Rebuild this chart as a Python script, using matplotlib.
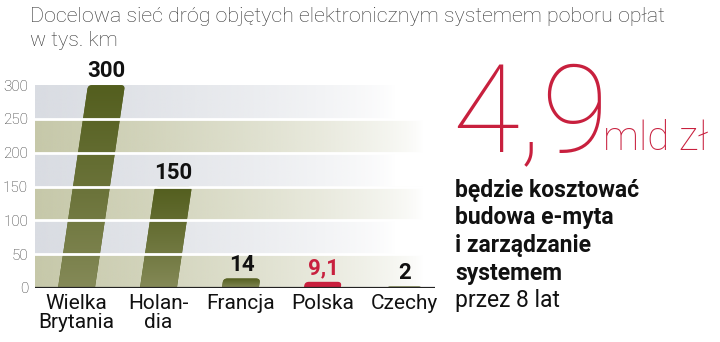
import matplotlib
matplotlib.use("Agg")
import matplotlib.pyplot as plt
import matplotlib.transforms as mtransforms
from matplotlib.patches import FancyBboxPatch
from matplotlib.colors import to_rgb
import numpy as np

# data
countries = ["Wielka\nBrytania", "Holan-\ndia", "Francja", "Polska", "Czechy"]
lengths = [300, 150, 14, 9.1, 2]
value_labels = ["300", "150", "14", "9,1", "2"]
yticks = [0, 50, 100, 150, 200, 250, 300]

olive_top = "#535e1e"
olive_bottom = "#858a58"
red = "#c8203e"

plt.rcParams['font.family'] = ['Roboto', 'DejaVu Sans']

fig = plt.figure(figsize=(7.2, 3.42), dpi=100)
ax = fig.add_axes([0.0486, 0.158, 0.555, 0.593])
ax.set_xlim(-0.506, 4.37)
ax.set_ylim(0, 300)

# striped background fading to white on the right
xs = np.linspace(0, 1, 256)
for i in range(6):
    lo, hi = i * 50, (i + 1) * 50
    base = "#c6c8a9" if i % 2 == 0 else "#d9dce2"
    fade_end = 0.97 if i % 2 == 0 else 0.9
    alpha = np.clip(1 - xs / fade_end, 0, 1) ** 0.7
    img = np.zeros((1, 256, 4))
    img[..., :3] = to_rgb(base)
    img[..., 3] = alpha
    ax.imshow(img, extent=(-0.506, 4.37, lo, hi), aspect="auto", zorder=0,
              interpolation="bilinear")
for y in yticks[1:-1]:
    ax.axhline(y, color="white", lw=2, zorder=3)

# slanted bars with rounded tops
shear = 0.00122  # x shift (category units) per value unit
skew = mtransforms.Affine2D().skew(np.arctan(shear), 0)
width = 0.45
c_top, c_bot = np.array(to_rgb(olive_top)), np.array(to_rgb(olive_bottom))
for i, v in enumerate(lengths):
    col = red if i == 3 else olive_top
    patch = FancyBboxPatch((i - width / 2, -10), width, v + 10,
                           boxstyle="round,pad=0,rounding_size=0.05",
                           mutation_aspect=110, fc=col, ec="none",
                           transform=skew + ax.transData, zorder=2)
    ax.add_patch(patch)
    if i != 3:
        t = np.linspace(0, 1, 256)[:, None]
        grad = np.ones((256, 1, 4))
        grad[..., :3] = c_bot + (c_top - c_bot) * t[..., None] ** 0.9
        im = ax.imshow(grad, extent=(i - 1, i + 1.5, 0, v), origin="lower",
                       aspect="auto", zorder=2.1, interpolation="bilinear")
        im.set_clip_path(patch)
    ax.text(i + shear * v, v + 4, value_labels[i], ha="center", va="bottom",
            fontsize=16, fontweight="bold", color=red if i == 3 else "#111111",
            zorder=4, clip_on=False)

ax.axhline(0, color="#222222", lw=1.6, zorder=3)
for s in ax.spines.values():
    s.set_visible(False)
ax.set_yticks(yticks)
ax.set_yticklabels([str(t) for t in yticks], fontsize=11, color="#333333",
                   fontweight="light")
ax.tick_params(axis="y", length=0, pad=5)
ax.set_xticks(range(len(countries)))
ax.set_xticklabels(countries, fontsize=15, color="#111111", linespacing=1.0)
ax.tick_params(axis="x", length=0, pad=4)

# headings
fig.text(0.042, 0.935, "Docelowa sieć dróg objętych elektronicznym systemem poboru opłat",
         fontsize=15.4, fontweight="light", color="#333333", ha="left", va="baseline")
fig.text(0.042, 0.865, "w tys. km", fontsize=15.4, fontweight="light",
         color="#333333", ha="left", va="baseline")

# right side callout
fig.text(0.628, 0.555, "4,9", fontsize=88, fontweight="light", color=red,
         ha="left", va="baseline")
fig.text(0.838, 0.56, "mld zł", fontsize=29, fontweight="light", color=red,
         ha="left", va="baseline")
lines = ["będzie kosztować", "budowa e-myta", "i zarządzanie", "systemem"]
for k, s in enumerate(lines):
    fig.text(0.632, 0.425 - k * 0.081, s, fontsize=16.5, fontweight="bold",
             color="#111111", ha="left", va="baseline")
fig.text(0.632, 0.425 - 4 * 0.081, "przez 8 lat", fontsize=16.5, color="#111111",
         ha="left", va="baseline")

fig.savefig("out.png", dpi=100)
